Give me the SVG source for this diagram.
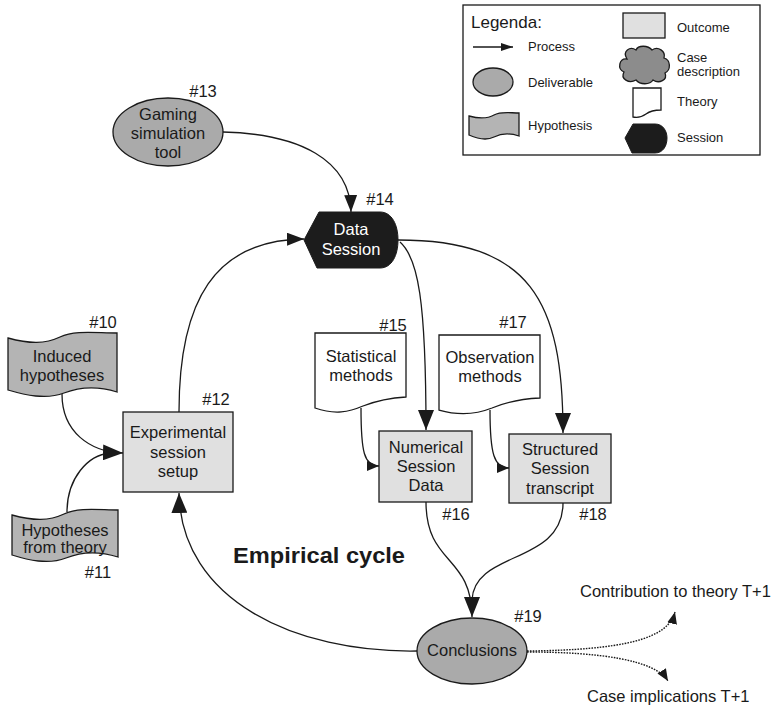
<svg xmlns="http://www.w3.org/2000/svg" width="772" height="707" viewBox="0 0 772 707">
<style>
text{font-family:"Liberation Sans",Arial,sans-serif;fill:#1a1a1a}
.t{font-size:16.5px;text-anchor:middle}
.n{font-size:16.5px;text-anchor:middle}
.lg{font-size:13px}
.e{fill:none;stroke:#1a1a1a;stroke-width:1.3}
.d{fill:none;stroke:#1a1a1a;stroke-width:1.4;stroke-dasharray:1.6 1.2}
.deliv{fill:#aaaaaa;stroke:#1a1a1a;stroke-width:1.3}
.out{fill:#e0e0e0;stroke:#1a1a1a;stroke-width:1.3}
.hyp{fill:#b4b4b4;stroke:#1a1a1a;stroke-width:1.3}
.th{fill:#ffffff;stroke:#1a1a1a;stroke-width:1.3}
.ses{fill:#1c1c1c;stroke:#1c1c1c;stroke-width:1}
.cloud{fill:#8c8c8c;stroke:#1a1a1a;stroke-width:1.3}
</style>
<defs>
<marker id="aBig" markerWidth="20" markerHeight="16" refX="20" refY="8" orient="auto" markerUnits="userSpaceOnUse"><path d="M0,0 L20,8 L0,16 z" fill="#1a1a1a"/></marker>
<marker id="aMid" markerWidth="17" markerHeight="13" refX="17" refY="6.5" orient="auto" markerUnits="userSpaceOnUse"><path d="M0,0 L17,6.5 L0,13 z" fill="#1a1a1a"/></marker>
<marker id="aSm" markerWidth="12" markerHeight="10" refX="12" refY="5" orient="auto" markerUnits="userSpaceOnUse"><path d="M0,0 L12,5 L0,10 z" fill="#1a1a1a"/></marker>
<marker id="aDot" markerWidth="12" markerHeight="10" refX="12" refY="5" orient="auto" markerUnits="userSpaceOnUse"><path d="M0,0 L12,5 L0,10 z" fill="#1a1a1a"/></marker>
<marker id="aLg" markerWidth="12" markerHeight="8" refX="12" refY="4" orient="auto" markerUnits="userSpaceOnUse"><path d="M0,0 L12,4 L0,8 z" fill="#1a1a1a"/></marker>
</defs>

<g id="legend">
<rect x="463" y="5" width="297" height="150" fill="#ffffff" stroke="#1a1a1a" stroke-width="1.3"/>
<text x="471" y="28" style="font-size:17px">Legenda:</text>
<line x1="473" y1="47" x2="513" y2="47" class="e" marker-end="url(#aLg)"/>
<text x="528" y="51" class="lg">Process</text>
<ellipse cx="493" cy="82" rx="20" ry="14" class="deliv"/>
<text x="528" y="87" class="lg">Deliverable</text>
<path d="M469,116 C480,119 487,119 494,115 C501,111 510,113 519,113 V136 C510,133 502,133 494,137 C486,141 478,139 469,135 Z" class="hyp"/>
<text x="528" y="130" class="lg">Hypothesis</text>
<rect x="623" y="13" width="42" height="25" class="out"/>
<text x="677" y="32" class="lg">Outcome</text>
<path d="M627,59 C619,58 617,69 624,72 C620,79 629,84 636,80 C640,85 650,85 653,80 C659,84 668,80 665,73 C671,70 671,60 664,58 C666,51 658,46 652,50 C648,45 638,45 636,50 C630,46 622,51 627,59 Z" class="cloud"/>
<text x="677" y="62" class="lg">Case</text>
<text x="677" y="76" class="lg">description</text>
<path d="M633,88 H661 V110 C654,110 650,111 646,114 C642,117 638,118 633,117 Z" class="th"/>
<text x="677" y="106" class="lg">Theory</text>
<path d="M633,124 H655 C663,124 667,131 667,138 C667,146 663,153 655,153 H632 L625,138 Z" class="ses"/>
<text x="677" y="142" class="lg">Session</text>
</g>

<g id="connectors">
<path d="M223,132 C300,134 350,160 351,212" class="e" marker-end="url(#aMid)"/>
<path d="M179,412 C179,300 215,240 304,239" class="e" marker-end="url(#aMid)"/>
<path d="M400,242 C418,258 426,300 426,430" class="e" marker-end="url(#aBig)"/>
<path d="M398,240 C530,240 563,300 563,433" class="e" marker-end="url(#aBig)"/>
<path d="M62,394 C62,432 90,452 123,453" class="e" marker-end="url(#aBig)"/>
<path d="M67,512 C67,478 88,455 110,453" class="e"/>
<path d="M361,408 C361,452 364,466 379,466" class="e" marker-end="url(#aSm)"/>
<path d="M490,410 C490,454 494,468 509,468" class="e" marker-end="url(#aSm)"/>
<path d="M426,502 C426,565 472,555 472,617" class="e" marker-end="url(#aBig)"/>
<path d="M563,503 C563,565 474,550 472,600" class="e"/>
<path d="M417,651 C295,653 181,600 179,493" class="e" marker-end="url(#aBig)"/>
<path d="M527,651 C620,650 668,640 675,612" class="d" marker-end="url(#aDot)"/>
<path d="M527,652 C600,652 655,660 668,681" class="d" marker-end="url(#aDot)"/>
</g>

<g id="n13">
<ellipse cx="168" cy="132" rx="55" ry="34" class="deliv"/>
<text x="168" y="120" class="t">Gaming</text>
<text x="168" y="139" class="t">simulation</text>
<text x="168" y="158" class="t">tool</text>
<text x="203" y="97" class="n">#13</text>
</g>

<g id="n14">
<path d="M319,212 H380 C392,212 398,225 398,240 C398,255 392,268 380,268 H317 L304,240 Z" class="ses"/>
<text x="351" y="235" class="t" style="fill:#ffffff">Data</text>
<text x="351" y="255" class="t" style="fill:#ffffff">Session</text>
<text x="380" y="205" class="n">#14</text>
</g>

<g id="n10">
<path d="M8,338 C30,344 45,344 60,337 C75,330 95,333 117,333 V392 C98,386 82,386 64,393 C46,400 25,395 8,390 Z" class="hyp"/>
<text x="62" y="362" class="t">Induced</text>
<text x="62" y="381" class="t">hypotheses</text>
<text x="103" y="328" class="n">#10</text>
</g>

<g id="n11">
<path d="M12,515 C34,521 49,521 64,514 C79,507 99,510 118,510 V557 C99,551 83,551 66,558 C48,565 28,560 12,555 Z" class="hyp"/>
<text x="65" y="536" class="t">Hypotheses</text>
<text x="65" y="553" class="t">from  theory</text>
<text x="98" y="578" class="n">#11</text>
</g>

<g id="n12">
<rect x="123" y="412" width="110" height="80" class="out"/>
<text x="178" y="438" class="t">Experimental</text>
<text x="178" y="458" class="t">session</text>
<text x="178" y="477" class="t">setup</text>
<text x="216" y="405" class="n">#12</text>
</g>

<g id="n15">
<path d="M315,333 H406 V397 C388,398 376,401 363,406 C349,412 335,415 315,408 Z" class="th"/>
<text x="361" y="362" class="t">Statistical</text>
<text x="361" y="381" class="t">methods</text>
<text x="393" y="331" class="n">#15</text>
</g>

<g id="n16">
<rect x="379" y="431" width="93" height="71" class="out"/>
<text x="426" y="453" class="t">Numerical</text>
<text x="426" y="472" class="t">Session</text>
<text x="426" y="491" class="t">Data</text>
<text x="456" y="520" class="n">#16</text>
</g>

<g id="n17">
<path d="M439,335 H540 V398 C520,399 506,402 492,408 C477,414 460,416 439,410 Z" class="th"/>
<text x="490" y="363" class="t">Observation</text>
<text x="490" y="382" class="t">methods</text>
<text x="513" y="328" class="n">#17</text>
</g>

<g id="n18">
<rect x="509" y="434" width="102" height="69" class="out"/>
<text x="560" y="455" class="t">Structured</text>
<text x="560" y="474" class="t">Session</text>
<text x="560" y="494" class="t">transcript</text>
<text x="593" y="520" class="n">#18</text>
</g>

<g id="n19">
<ellipse cx="472" cy="651" rx="55" ry="33" class="deliv"/>
<text x="472" y="656" class="t">Conclusions</text>
<text x="528" y="622" class="n">#19</text>
</g>

<g id="labels">
<text x="233" y="563" style="font-size:22px;font-weight:bold" textLength="172" lengthAdjust="spacingAndGlyphs">Empirical cycle</text>
<text x="580" y="597" style="font-size:16.5px">Contribution to theory T+1</text>
<text x="587" y="702" style="font-size:16.5px">Case implications T+1</text>
</g>
</svg>
